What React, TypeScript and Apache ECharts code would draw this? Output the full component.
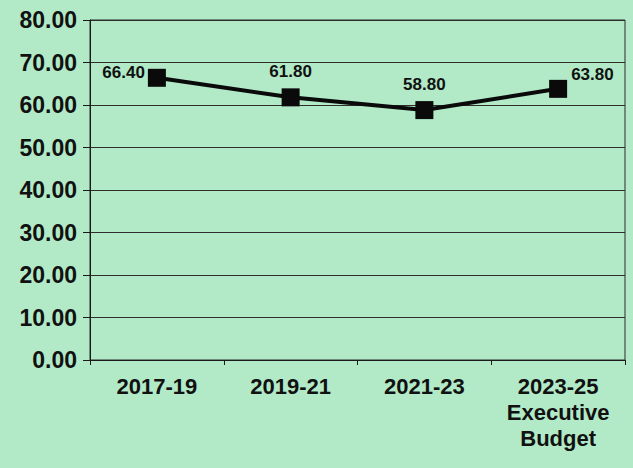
import React, { useEffect, useRef } from "react";
import * as echarts from "echarts";

const categories = ["2017-19", "2019-21", "2021-23", "2023-25\nExecutive\nBudget"];
const values = [66.4, 61.8, 58.8, 63.8];
const yTicks = { min: 0, max: 80, interval: 10 };

export default function App() {
  const ref = useRef<HTMLDivElement>(null);
  useEffect(() => {
    const chart = echarts.init(ref.current!, null, { renderer: "svg" });
    const labelPos: any[] = [
      { position: "left", distance: 3, offset: [0, -5] },
      { position: "top", distance: 8 },
      { position: "top", distance: 8 },
      { position: "right", distance: 4, offset: [0, -14] },
    ];
    chart.setOption({
      animation: false,
      backgroundColor: "#b2eac8",
      textStyle: { fontFamily: "Liberation Sans, Arial, sans-serif" },
      grid: {
        left: 90,
        right: 8,
        top: 20,
        bottom: 108,
        show: true,
        borderColor: "#2a2a2a",
        borderWidth: 1,
        backgroundColor: "transparent",
      },
      xAxis: {
        type: "category",
        data: categories,
        boundaryGap: true,
        axisLine: { show: true, lineStyle: { color: "#1a1a1a", width: 1 } },
        axisTick: { show: true, length: 5, alignWithLabel: false, lineStyle: { color: "#1a1a1a" } },
        axisLabel: {
          color: "#111",
          fontWeight: "bold",
          fontSize: 22,
          lineHeight: 26,
          margin: 13,
          interval: 0,
        },
      },
      yAxis: {
        type: "value",
        min: yTicks.min,
        max: yTicks.max,
        interval: yTicks.interval,
        axisLine: { show: true, lineStyle: { color: "#1a1a1a", width: 1 } },
        axisTick: { show: true, length: 7, lineStyle: { color: "#1a1a1a" } },
        splitLine: { show: true, lineStyle: { color: "#2e2e2e", width: 1 } },
        axisLabel: {
          color: "#111",
          fontWeight: "bold",
          fontSize: 23,
          margin: 13,
          formatter: (v: number) => v.toFixed(2),
        },
      },
      series: [
        {
          type: "line",
          data: values.map((v, i) => ({ value: v, label: labelPos[i] })),
          symbol: "rect",
          symbolSize: 18,
          lineStyle: { color: "#0a0a0a", width: 4 },
          itemStyle: { color: "#0a0a0a" },
          label: {
            show: true,
            color: "#111",
            fontWeight: "bold",
            fontSize: 17,
            formatter: (p: any) => Number(p.value).toFixed(2),
          },
        },
      ],
    });
    return () => chart.dispose();
  }, []);
  return (
    <div
      ref={ref}
      style={{ position: "fixed", left: 0, top: 0, width: 633, height: 468 }}
    />
  );
}
